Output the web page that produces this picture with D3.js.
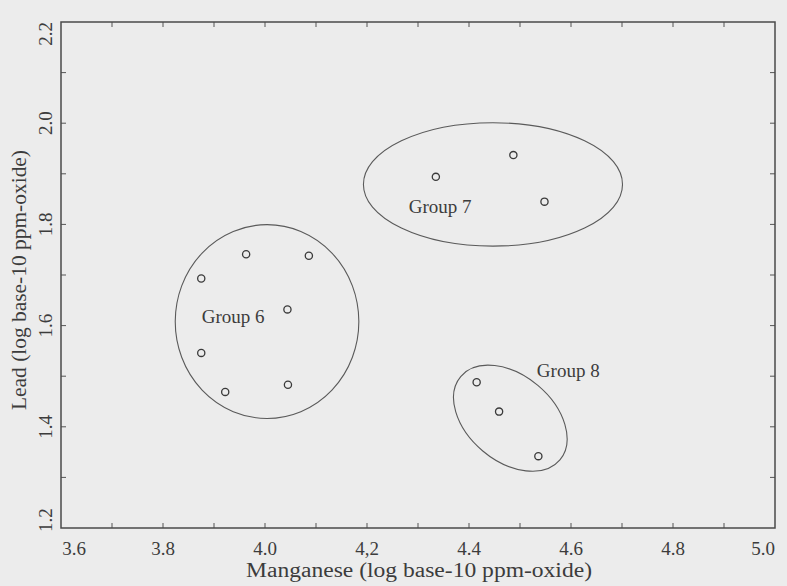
<!DOCTYPE html>
<html>
<head>
<meta charset="utf-8">
<script src="https://cdn.jsdelivr.net/npm/d3@7"></script>
<style>
  body { margin: 0; background: #ececec; }
  svg { display: block; }
  text { font-family: "Liberation Serif", "Times New Roman", serif; fill: #3c3c3c; }
</style>
</head>
<body>
<div id="chart"></div>
<script>
// manganese (x) and lead (y), log base-10 ppm-oxide
var group6Mn = [3.963, 4.086, 3.875, 4.044, 3.875, 3.922, 4.045];
var group6Pb = [1.741, 1.738, 1.693, 1.632, 1.546, 1.469, 1.483];
var group7Mn = [4.335, 4.487, 4.548];
var group7Pb = [1.894, 1.937, 1.845];
var group8Mn = [4.415, 4.459, 4.536];
var group8Pb = [1.488, 1.430, 1.342];

var groupNames = ['Group 6', 'Group 7', 'Group 8'];
// enclosing ellipses: centre (Mn, Pb), semi-axes in Mn units, tilt in degrees
var ellipseMn = [4.004, 4.447, 4.481];
var ellipsePb = [1.608, 1.879, 1.417];
var ellipseA = [0.180, 0.254, 0.127];
var ellipseB = [0.190, 0.121, 0.084];
var ellipseTilt = [0, 0, 40];
// where each group's label starts (Mn, Pb of baseline)
var labelMn = [3.876, 4.282, 4.533];
var labelPb = [1.605, 1.823, 1.499];

var xTicks = [3.6, 3.8, 4.0, 4.2, 4.4, 4.6, 4.8, 5.0];
var xTickText = ['3.6', '3.8', '4.0', '4,2', '4.4', '4.6', '4.8', '5.0'];
var yTicks = [1.2, 1.4, 1.6, 1.8, 2.0, 2.2];
var minorX = d3.range(37, 50).map(function(d) { return d / 10; });
var minorY = d3.range(13, 22).map(function(d) { return d / 10; });

var w = 787, h = 586;
var pl = 61, pr = 775, pt = 22, pb = 528;

var x = d3.scaleLinear().domain([3.6, 5.0]).range([pl, pr]);
var y = d3.scaleLinear().domain([1.2, 2.2]).range([pb, pt]);

var svg = d3.select('#chart').append('svg')
    .attr('width', w)
    .attr('height', h);

svg.append('rect')
    .attr('width', w).attr('height', h)
    .attr('fill', '#ececec');

// inward ticks on all four sides
var tl = 5;
var tickG = svg.append('g').attr('stroke', '#555').attr('stroke-width', 1);
minorX.forEach(function(v) {
  tickG.append('line').attr('x1', x(v)).attr('x2', x(v)).attr('y1', pb).attr('y2', pb - tl);
  tickG.append('line').attr('x1', x(v)).attr('x2', x(v)).attr('y1', pt).attr('y2', pt + tl);
});
minorY.forEach(function(v) {
  tickG.append('line').attr('y1', y(v)).attr('y2', y(v)).attr('x1', pl).attr('x2', pl + tl);
  tickG.append('line').attr('y1', y(v)).attr('y2', y(v)).attr('x1', pr).attr('x2', pr - tl);
});

svg.append('rect')
    .attr('x', pl).attr('y', pt)
    .attr('width', pr - pl).attr('height', pb - pt)
    .attr('fill', 'none')
    .attr('stroke', '#4a4a4a')
    .attr('stroke-width', 1.5);

// tick labels
svg.selectAll('.xlab')
    .data(xTicks)
    .enter().append('text')
    .attr('class', 'xlab')
    .attr('x', function(d, i) { return x(d) + (i === 0 ? 13 : 0); })
    .attr('y', 555)
    .attr('text-anchor', function(d, i) { return i === xTicks.length - 1 ? 'end' : 'middle'; })
    .attr('font-size', '19px')
    .text(function(d, i) { return xTickText[i]; });

svg.selectAll('.ylab')
    .data(yTicks)
    .enter().append('text')
    .attr('class', 'ylab')
    .attr('transform', function(d, i) {
      return 'translate(52,' + (y(d) - (i === 0 ? 8 : 0)) + ') rotate(-90)';
    })
    .attr('text-anchor', function(d, i) { return i === yTicks.length - 1 ? 'end' : 'middle'; })
    .attr('font-size', '19px')
    .text(function(d) { return d.toFixed(1); });

// axis titles
svg.append('text')
    .attr('x', 419).attr('y', 577)
    .attr('text-anchor', 'middle')
    .attr('font-size', '20px')
    .attr('textLength', 346)
    .attr('lengthAdjust', 'spacingAndGlyphs')
    .text('Manganese (log base-10 ppm-oxide)');

svg.append('text')
    .attr('transform', 'translate(26,280) rotate(-90)')
    .attr('text-anchor', 'middle')
    .attr('font-size', '20px')
    .attr('textLength', 260)
    .attr('lengthAdjust', 'spacingAndGlyphs')
    .text('Lead (log base-10 ppm-oxide)');

// group ellipses
var ellipses = groupNames.map(function(n, i) {
  return { mn: ellipseMn[i], pb: ellipsePb[i], a: ellipseA[i], b: ellipseB[i], tilt: ellipseTilt[i] };
});
var unit = x(1) - x(0);

svg.selectAll('.grp')
    .data(ellipses)
    .enter().append('ellipse')
    .attr('class', 'grp')
    .attr('transform', function(d) { return 'translate(' + x(d.mn) + ',' + y(d.pb) + ') rotate(' + d.tilt + ')'; })
    .attr('rx', function(d) { return d.a * unit; })
    .attr('ry', function(d) { return d.b * unit; })
    .attr('fill', 'none')
    .attr('stroke', '#5a5a5a')
    .attr('stroke-width', 1.1);

svg.selectAll('.glab')
    .data(groupNames)
    .enter().append('text')
    .attr('class', 'glab')
    .attr('x', function(d, i) { return x(labelMn[i]); })
    .attr('y', function(d, i) { return y(labelPb[i]); })
    .attr('font-size', '19px')
    .text(function(d) { return d; });

// samples
var points = [];
[[group6Mn, group6Pb], [group7Mn, group7Pb], [group8Mn, group8Pb]].forEach(function(g) {
  g[0].forEach(function(mn, j) { points.push({ mn: mn, pb: g[1][j] }); });
});

svg.selectAll('circle.pt')
    .data(points)
    .enter().append('circle')
    .attr('class', 'pt')
    .attr('cx', function(d) { return x(d.mn); })
    .attr('cy', function(d) { return y(d.pb); })
    .attr('r', 3.6)
    .attr('fill', 'none')
    .attr('stroke', '#3a3a3a')
    .attr('stroke-width', 1.3);
</script>
</body>
</html>
